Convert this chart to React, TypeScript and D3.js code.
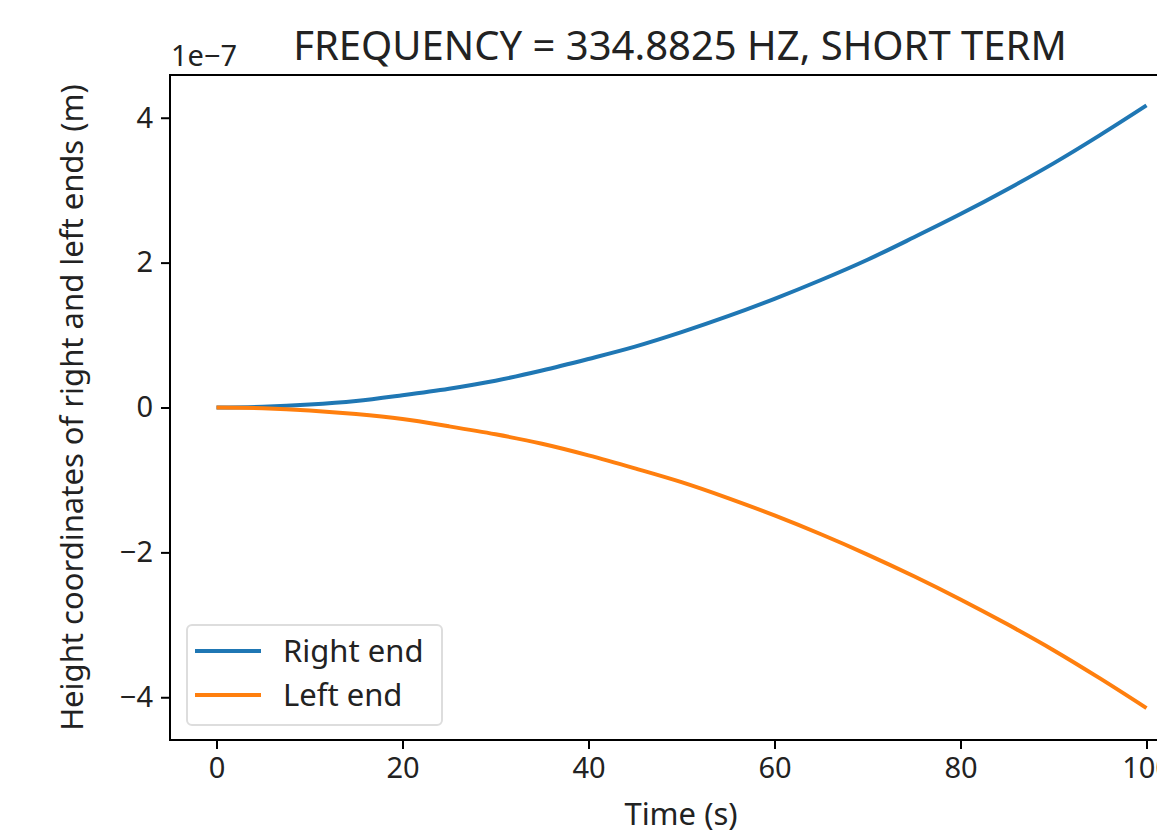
import React, { useEffect, useRef } from "react";
import * as d3 from "d3";

// time samples (s)
const times = [0, 5, 10, 15, 20, 25, 30, 35, 40, 45, 50, 55, 60, 65, 70, 75, 80, 85, 90, 95, 100];
// height of right end, units of 1e-7 m
const rightEnd = [0, 0.01, 0.04, 0.09, 0.17, 0.26, 0.37, 0.51, 0.67, 0.84, 1.04, 1.26, 1.5, 1.76, 2.04, 2.35, 2.67, 3.01, 3.37, 3.76, 4.17];
// height of left end, units of 1e-7 m
const leftEnd = [0, -0.01, -0.04, -0.09, -0.16, -0.26, -0.37, -0.5, -0.66, -0.84, -1.03, -1.25, -1.49, -1.75, -2.03, -2.33, -2.65, -2.99, -3.35, -3.74, -4.15];
const xTicks = [0, 20, 40, 60, 80, 100];
const yTicks = [-4, -2, 0, 2, 4];
const seriesNames = ["Right end", "Left end"];
const seriesColors = ["#1f77b4", "#ff7f0e"];

export default function App() {
  const ref = useRef<SVGSVGElement>(null);

  useEffect(() => {
    const svg = d3.select(ref.current);
    svg.selectAll("*").remove();

    const width = 1157,
      height = 833,
      margin = { top: 75, right: -36, bottom: 93, left: 170 };
    const font = "Noto Sans, Open Sans, sans-serif";
    const ink = "#222";

    const x = d3
      .scaleLinear()
      .domain([-5, 105])
      .range([margin.left, width - margin.right]);
    const y = d3
      .scaleLinear()
      .domain([-4.59, 4.59])
      .range([height - margin.bottom, margin.top]);

    svg.attr("width", width).attr("height", height);
    svg.append("rect").attr("width", width).attr("height", height).attr("fill", "#fff");

    const line = d3
      .line<number>()
      .x((_, i) => x(times[i]))
      .y((d) => y(d))
      .curve(d3.curveMonotoneX);

    [rightEnd, leftEnd].forEach((vals, i) => {
      svg
        .append("path")
        .datum(vals)
        .attr("d", line)
        .attr("fill", "none")
        .attr("stroke", seriesColors[i])
        .attr("stroke-width", 4);
    });

    const xAxis = svg
      .append("g")
      .attr("transform", `translate(0,${height - margin.bottom})`)
      .call(d3.axisBottom(x).tickValues(xTicks).tickSize(9).tickPadding(8).tickFormat(d3.format("d")));
    const yAxis = svg
      .append("g")
      .attr("transform", `translate(${margin.left},0)`)
      .call(
        d3
          .axisLeft(y)
          .tickValues(yTicks)
          .tickSize(9)
          .tickPadding(8)
          .tickFormat((d) => String(d).replace("-", "\u2212"))
      );
    [xAxis, yAxis].forEach((g) => {
      g.select(".domain").remove();
      g.selectAll("line").attr("stroke", "#000").attr("stroke-width", 2);
      g.selectAll("text").attr("font-family", font).attr("font-size", 29).attr("fill", ink);
    });

    // spines
    svg
      .append("rect")
      .attr("x", margin.left)
      .attr("y", margin.top)
      .attr("width", width - margin.right - margin.left)
      .attr("height", height - margin.bottom - margin.top)
      .attr("fill", "none")
      .attr("stroke", "#000")
      .attr("stroke-width", 2);

    svg
      .append("text")
      .attr("x", 680)
      .attr("y", 60)
      .attr("text-anchor", "middle")
      .attr("font-family", font)
      .attr("font-size", 40)
      .attr("fill", ink)
      .text("FREQUENCY = 334.8825 HZ, SHORT TERM");

    svg
      .append("text")
      .attr("x", margin.left + 1)
      .attr("y", 66)
      .attr("font-family", font)
      .attr("font-size", 29)
      .attr("fill", ink)
      .text("1e\u22127");

    svg
      .append("text")
      .attr("x", 681)
      .attr("y", 825)
      .attr("text-anchor", "middle")
      .attr("font-family", font)
      .attr("font-size", 31)
      .attr("fill", ink)
      .text("Time (s)");

    svg
      .append("text")
      .attr("transform", `translate(83,${y(0)}) rotate(-90)`)
      .attr("text-anchor", "middle")
      .attr("font-family", font)
      .attr("font-size", 31)
      .attr("fill", ink)
      .text("Height coordinates of right and left ends (m)");

    // legend
    const lg = svg.append("g").attr("transform", "translate(187,625)");
    lg.append("rect")
      .attr("width", 255)
      .attr("height", 100)
      .attr("rx", 5)
      .attr("fill", "#fff")
      .attr("fill-opacity", 0.8)
      .attr("stroke", "#ddd")
      .attr("stroke-width", 2);
    seriesNames.forEach((name, i) => {
      const cy = 26 + i * 44;
      lg.append("line")
        .attr("x1", 8)
        .attr("x2", 74)
        .attr("y1", cy)
        .attr("y2", cy)
        .attr("stroke", seriesColors[i])
        .attr("stroke-width", 4);
      lg.append("text")
        .attr("x", 96)
        .attr("y", cy + 11)
        .attr("font-family", font)
        .attr("font-size", 31)
        .attr("fill", ink)
        .text(name);
    });
  }, []);

  return (
    <div style={{ position: "absolute", left: 0, top: 0 }}>
      <svg ref={ref} style={{ display: "block" }}></svg>
    </div>
  );
}
